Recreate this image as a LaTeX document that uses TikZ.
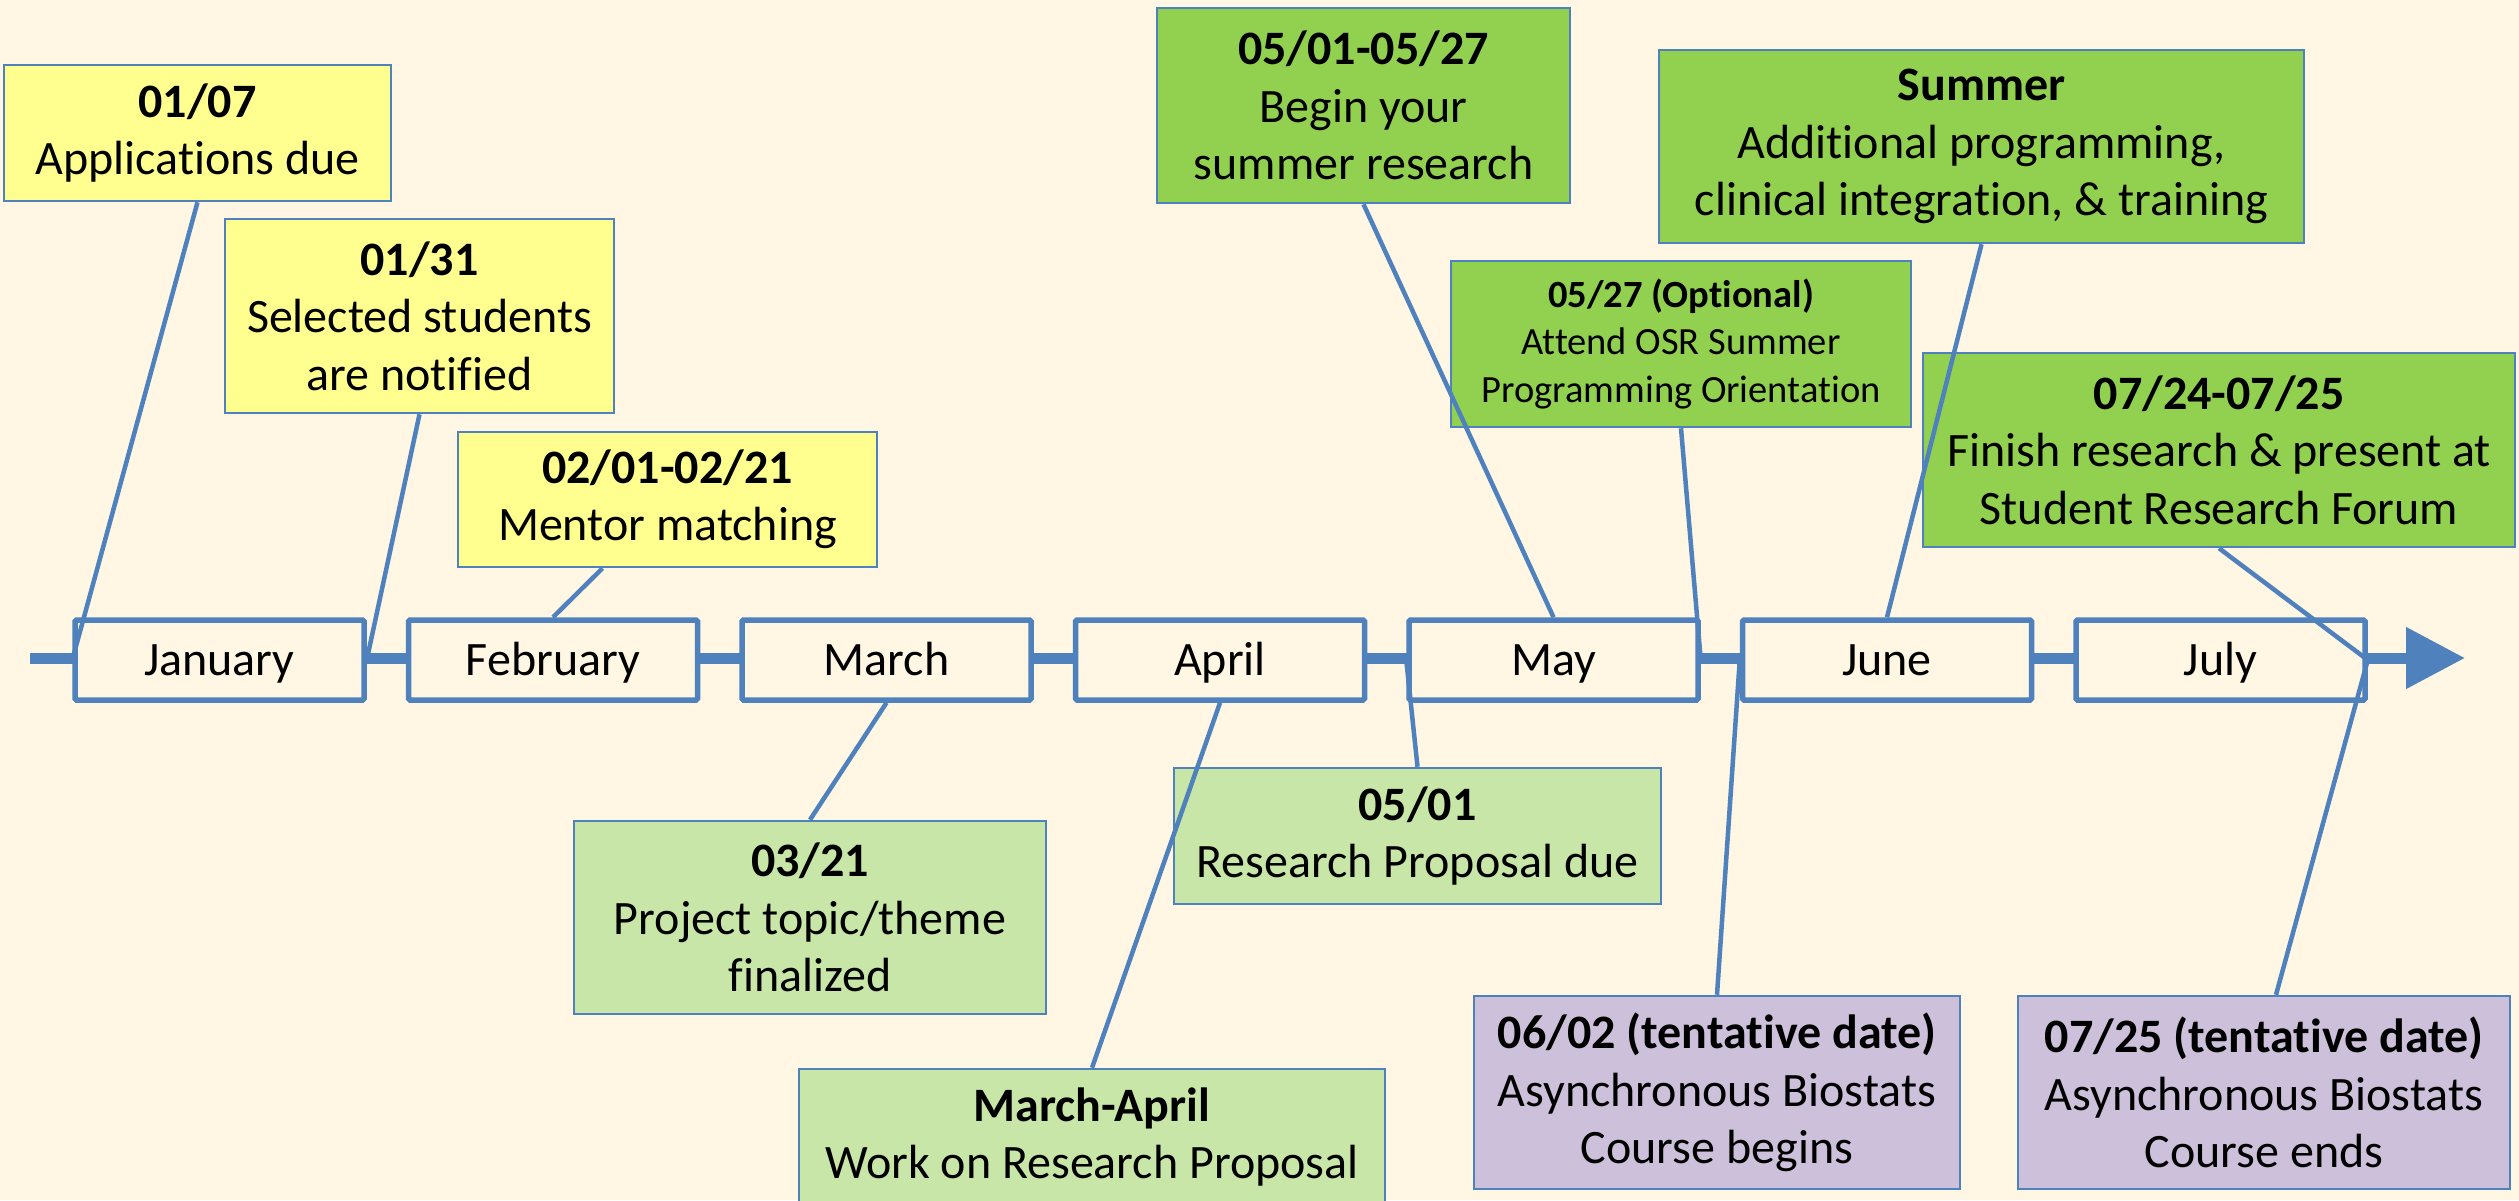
\documentclass[tikz,border=0pt]{standalone}
\usepackage{fontspec}
\setmainfont{Carlito}[Ligatures=NoCommon]
\usetikzlibrary{arrows.meta,calc}
\definecolor{bg}{RGB}{255,246,228}
\definecolor{tlblue}{RGB}{79,129,189}
\definecolor{yel}{RGB}{255,255,143}
\definecolor{grn}{RGB}{146,208,80}
\definecolor{lgrn}{RGB}{200,230,167}
\definecolor{lav}{RGB}{204,192,218}
\begin{document}
\begin{tikzpicture}[x=1pt,y=-1pt,
  month/.style={draw=tlblue, line width=5.5pt, fill=bg, minimum width=289pt, minimum height=80pt, inner sep=0pt, rounded corners=1.5pt, font=\fontsize{48}{57.5}\selectfont, text height=30pt, text depth=0pt},
  callout/.style={draw=tlblue, line width=2.5pt, inner sep=0pt, align=center, font=\fontsize{48}{57.5}\selectfont},
  smalltext/.style={font=\fontsize{38.5}{47.5}\selectfont},
  link/.style={draw=tlblue, line width=4.5pt},
]
\fill[bg] (0,0) rectangle (2519,1200);
\useasboundingbox (0,0) rectangle (2519,1200);
% timeline
\coordinate (tls) at (30,658);
\coordinate (tle) at (2465,658);
\draw[tlblue, line width=11pt, -{Triangle[length=59pt,width=59pt]}] (tls) -- (tle);
% months
\node[month] (jan) at (219.5,660) {January};
\node[month] (feb) at (553,660) {February};
\node[month] (mar) at (886.5,660) {March};
\node[month] (apr) at (1220,660) {April};
\node[month] (may) at (1553.5,660) {May};
\node[month] (jun) at (1887,660) {June};
\node[month] (jul) at (2220.5,660) {July};
% callouts
\node[callout, fill=yel, minimum width=387pt, minimum height=136pt] (n0107) at (197.5,133) {\textbf{01/07}\\Applications due};
\node[callout, fill=yel, minimum width=389pt, minimum height=194pt] (n0131) at (419.5,316) {\textbf{01/31}\\Selected students\\are notified};
\node[callout, fill=yel, minimum width=419pt, minimum height=135pt] (n0201) at (667.5,499.5) {\textbf{02/01-02/21}\\Mentor matching};
\node[callout, fill=grn, minimum width=413pt, minimum height=195pt] (n0501b) at (1363.5,105.5) {\textbf{05/01-05/27}\\Begin your\\summer research};
\node[callout, fill=grn, minimum width=645pt, minimum height=193pt] (nsummer) at (1981.5,146.5) {\textbf{Summer}\\Additional programming,\\clinical integration, \& training};
\node[callout, smalltext, fill=grn, minimum width=460pt, minimum height=166pt] (n0527) at (1681,344) {\textbf{05/27 (Optional)}\\Attend OSR Summer\\Programming Orientation};
\node[callout, fill=grn, minimum width=592pt, minimum height=194pt] (n0724) at (2219,450) {\textbf{07/24-07/25}\\Finish research \& present at\\Student Research Forum};
\node[callout, fill=lgrn, minimum width=472pt, minimum height=193pt] (n0321) at (810,917.5) {\textbf{03/21}\\Project topic/theme\\finalized};
\node[callout, fill=lgrn, minimum width=586pt, minimum height=136pt] (nmarapr) at (1092,1137) {\textbf{March-April}\\Work on Research Proposal};
\node[callout, fill=lgrn, minimum width=487pt, minimum height=136pt] (n0501) at (1417.5,836) {\textbf{05/01}\\Research Proposal due};
\node[callout, fill=lav, minimum width=486pt, minimum height=193pt] (n0602) at (1717,1092.5) {\textbf{06/02 (tentative date)}\\Asynchronous Biostats\\Course begins};
\node[callout, fill=lav, minimum width=492pt, minimum height=193pt] (n0725) at (2264,1092.5) {\textbf{07/25 (tentative date)}\\Asynchronous Biostats\\Course ends};
% connectors
\draw[link] (n0107.south) -- (jan.west);
\draw[link] (n0131.south) -- (jan.east);
\draw[link] ([xshift=-65pt]n0201.south) -- (feb.north);
\draw[link] (n0321.north) -- (mar.south);
\draw[link] (nmarapr.north) -- (apr.south);
\draw[link] (n0501.north) -- (may.west);
\draw[link] (n0501b.south) -- (may.north);
\draw[link] (n0527.south) -- (may.east);
\draw[link] (nsummer.south) -- (jun.north);
\draw[link] (n0602.north) -- (jun.west);
\draw[link] (n0724.south) -- (jul.east);
\draw[link] ([xshift=12pt]n0725.north) -- (jul.east);
\end{tikzpicture}
\end{document}
